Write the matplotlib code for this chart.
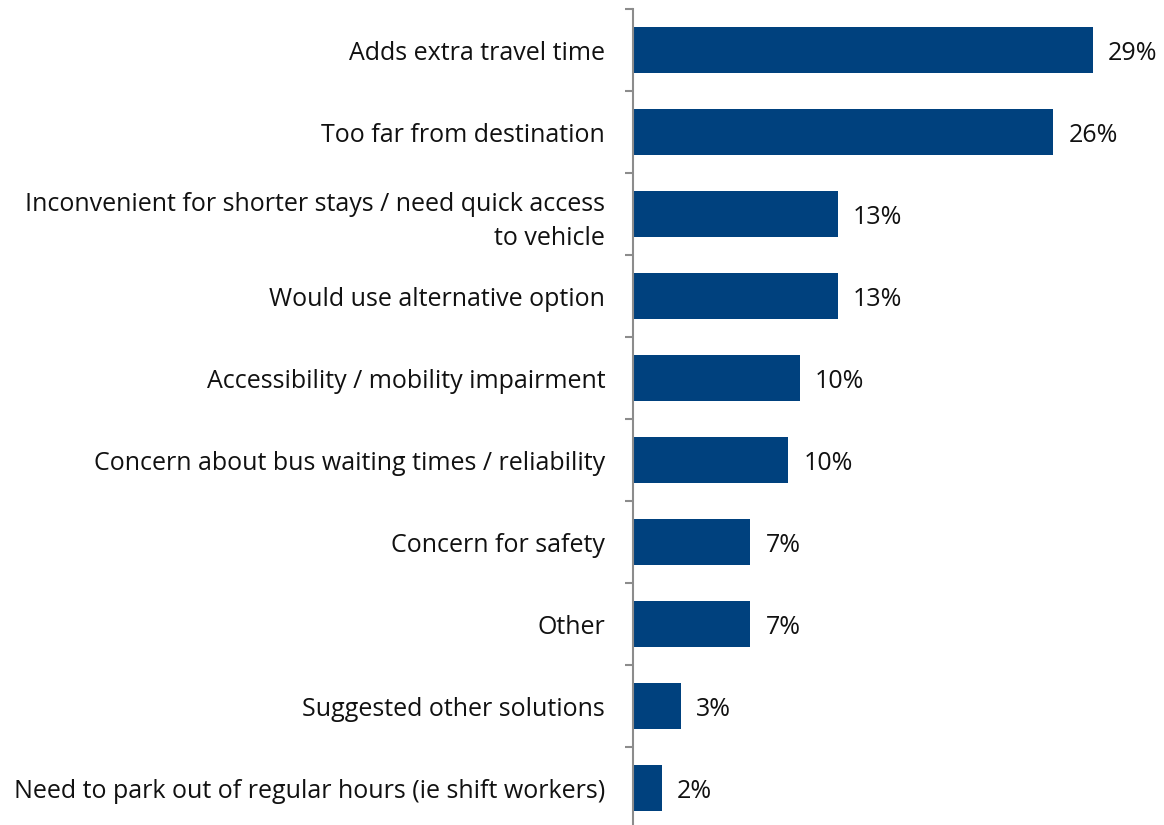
import matplotlib.pyplot as plt
import numpy as np

categories = [
    "Adds extra travel time",
    "Too far from destination",
    "Inconvenient for shorter stays / need quick access\nto vehicle",
    "Would use alternative option",
    "Accessibility / mobility impairment",
    "Concern about bus waiting times / reliability",
    "Concern for safety",
    "Other",
    "Suggested other solutions",
    "Need to park out of regular hours (ie shift workers)",
]
values = [29.0, 26.5, 12.9, 12.9, 10.5, 9.8, 7.4, 7.4, 3.0, 1.8]
labels = ["29%", "26%", "13%", "13%", "10%", "10%", "7%", "7%", "3%", "2%"]

plt.rcParams['font.family'] = ['Open Sans', 'DejaVu Sans']

fig = plt.figure(figsize=(11.64, 8.25), dpi=100)
ax = fig.add_axes([633/1164, -4/825, 531/1164, 820/825])

y = np.arange(len(categories))
ax.barh(y, values, height=0.56, color='#00417E')
for yi, v, lab in zip(y, values, labels):
    ax.text(v + 0.95, yi, lab, va='center_baseline', ha='left', fontsize=18,
            color='#111111')

ax.set_xlim(0, 531/15.86)
ax.set_ylim(len(categories) - 0.5, -0.5)
ax.set_yticks(y)
ax.set_yticklabels(categories, fontsize=18, color='#111111', ha='right',
                   linespacing=1.45)
ax.tick_params(axis='y', which='major', length=0, pad=20)
ax.set_yticks(np.arange(-0.5, len(categories), 1), minor=True)
ax.tick_params(axis='y', which='minor', length=6, width=1.5, color='#8c8c8c')
ax.set_xticks([])
for s in ['top', 'right', 'bottom']:
    ax.spines[s].set_visible(False)
ax.spines['left'].set_color('#8c8c8c')
ax.spines['left'].set_linewidth(1.5)

fig.savefig('out.png', dpi=100)
